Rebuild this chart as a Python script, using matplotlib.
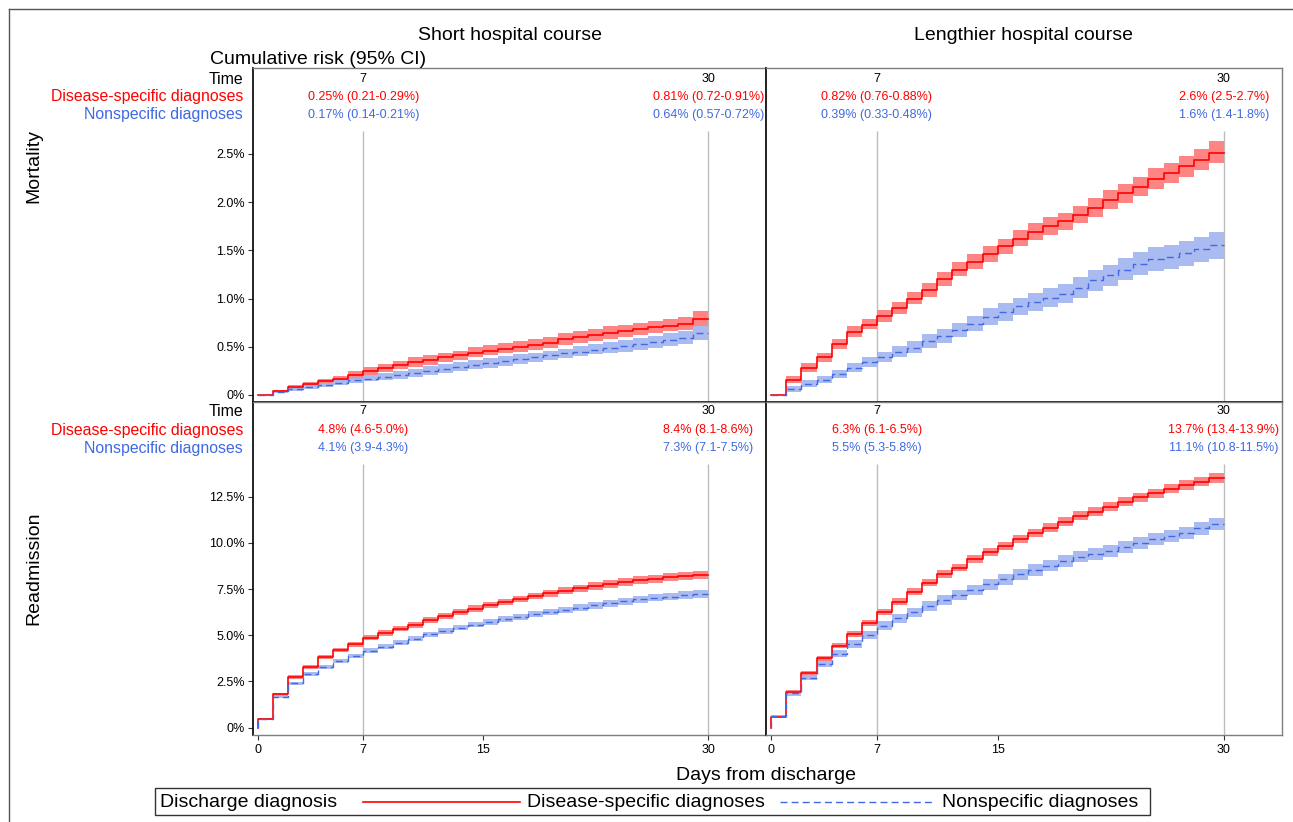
import numpy as np
import matplotlib
matplotlib.use("Agg")
import matplotlib.pyplot as plt
from matplotlib.lines import Line2D
from matplotlib.patches import Rectangle
import matplotlib.transforms as mtransforms

plt.rcParams['font.family'] = ['Liberation Sans', 'DejaVu Sans']

# ---------------- data (values in %, one value per day interval [d, d+1)) -------------
days = list(range(0, 31))  # interval edges 0..30

# Mortality, short hospital course
ms_red_est = [0, 0.04, 0.08, 0.11, 0.14, 0.17, 0.21, 0.25, 0.28, 0.31, 0.34, 0.36, 0.39, 0.41, 0.44,
              0.46, 0.48, 0.50, 0.52, 0.54, 0.58, 0.60, 0.62, 0.64, 0.66, 0.68, 0.70, 0.72, 0.74, 0.79]
ms_red_lo = [0, 0.03, 0.06, 0.09, 0.11, 0.14, 0.17, 0.21, 0.24, 0.27, 0.29, 0.31, 0.34, 0.36, 0.39,
             0.41, 0.43, 0.45, 0.47, 0.49, 0.52, 0.54, 0.56, 0.58, 0.60, 0.62, 0.64, 0.66, 0.67, 0.71]
ms_red_hi = [0, 0.05, 0.10, 0.13, 0.17, 0.20, 0.25, 0.29, 0.32, 0.35, 0.39, 0.41, 0.44, 0.46, 0.50,
             0.52, 0.54, 0.56, 0.58, 0.60, 0.64, 0.66, 0.68, 0.71, 0.73, 0.75, 0.77, 0.79, 0.81, 0.87]
ms_blue_est = [0, 0.03, 0.06, 0.08, 0.10, 0.12, 0.15, 0.17, 0.19, 0.21, 0.23, 0.25, 0.27, 0.29, 0.31,
               0.33, 0.35, 0.37, 0.39, 0.41, 0.43, 0.45, 0.47, 0.49, 0.51, 0.53, 0.55, 0.57, 0.59, 0.64]
ms_blue_lo = [0, 0.02, 0.04, 0.06, 0.08, 0.10, 0.12, 0.14, 0.16, 0.17, 0.19, 0.21, 0.23, 0.25, 0.27,
              0.28, 0.30, 0.32, 0.34, 0.36, 0.38, 0.40, 0.42, 0.43, 0.45, 0.47, 0.49, 0.51, 0.53, 0.57]
ms_blue_hi = [0, 0.04, 0.08, 0.10, 0.12, 0.15, 0.18, 0.21, 0.23, 0.25, 0.27, 0.30, 0.32, 0.34, 0.36,
              0.38, 0.40, 0.42, 0.44, 0.46, 0.48, 0.51, 0.53, 0.55, 0.57, 0.59, 0.61, 0.64, 0.66, 0.71]

# Mortality, lengthier hospital course
ml_red_est = [0, 0.16, 0.28, 0.39, 0.53, 0.65, 0.73, 0.82, 0.90, 1.00, 1.09, 1.20, 1.30, 1.38, 1.46,
              1.54, 1.62, 1.69, 1.75, 1.80, 1.87, 1.94, 2.02, 2.09, 2.16, 2.24, 2.30, 2.37, 2.44, 2.51]
ml_red_lo = [0, 0.12, 0.24, 0.34, 0.48, 0.60, 0.68, 0.76, 0.84, 0.94, 1.02, 1.13, 1.23, 1.31, 1.38,
             1.46, 1.54, 1.61, 1.66, 1.71, 1.78, 1.85, 1.93, 1.99, 2.06, 2.14, 2.20, 2.26, 2.33, 2.40]
ml_red_hi = [0, 0.20, 0.33, 0.44, 0.58, 0.71, 0.79, 0.88, 0.96, 1.07, 1.16, 1.27, 1.38, 1.46, 1.54,
             1.62, 1.71, 1.78, 1.84, 1.89, 1.96, 2.04, 2.12, 2.19, 2.26, 2.35, 2.41, 2.48, 2.55, 2.63]
ml_blue_est = [0, 0.06, 0.11, 0.16, 0.22, 0.28, 0.34, 0.39, 0.45, 0.49, 0.56, 0.61, 0.67, 0.74, 0.81,
               0.86, 0.92, 0.96, 1.01, 1.05, 1.11, 1.19, 1.24, 1.30, 1.36, 1.41, 1.43, 1.47, 1.51, 1.55]
ml_blue_lo = [0, 0.03, 0.08, 0.12, 0.18, 0.24, 0.29, 0.34, 0.39, 0.43, 0.49, 0.54, 0.60, 0.66, 0.73,
              0.77, 0.83, 0.87, 0.91, 0.95, 1.01, 1.08, 1.13, 1.19, 1.24, 1.29, 1.31, 1.34, 1.38, 1.41]
ml_blue_hi = [0, 0.09, 0.15, 0.20, 0.26, 0.33, 0.39, 0.45, 0.51, 0.56, 0.63, 0.68, 0.75, 0.82, 0.90,
              0.95, 1.01, 1.06, 1.11, 1.15, 1.22, 1.30, 1.35, 1.42, 1.48, 1.53, 1.56, 1.60, 1.64, 1.69]

# Readmission, short hospital course
rs_red_est = [0.47, 1.82, 2.73, 3.30, 3.81, 4.20, 4.51, 4.87, 5.11, 5.36, 5.56, 5.83, 6.04, 6.24, 6.44,
              6.64, 6.80, 6.96, 7.13, 7.27, 7.41, 7.54, 7.67, 7.78, 7.88, 7.99, 8.06, 8.14, 8.21, 8.28]
rs_red_lo = [0.44, 1.74, 2.63, 3.19, 3.69, 4.07, 4.37, 4.73, 4.96, 5.21, 5.40, 5.67, 5.88, 6.07, 6.27,
             6.47, 6.62, 6.78, 6.95, 7.08, 7.22, 7.35, 7.47, 7.58, 7.68, 7.78, 7.85, 7.93, 7.99, 8.06]
rs_red_hi = [0.50, 1.90, 2.83, 3.41, 3.93, 4.33, 4.65, 5.01, 5.26, 5.51, 5.72, 5.99, 6.20, 6.41, 6.61,
             6.81, 6.98, 7.14, 7.31, 7.46, 7.60, 7.73, 7.87, 7.98, 8.08, 8.20, 8.27, 8.35, 8.43, 8.50]
rs_blue_est = [0.47, 1.68, 2.40, 2.91, 3.30, 3.61, 3.88, 4.17, 4.38, 4.60, 4.82, 5.05, 5.23, 5.41, 5.57,
               5.72, 5.88, 6.01, 6.14, 6.26, 6.37, 6.49, 6.62, 6.73, 6.84, 6.95, 7.03, 7.09, 7.18, 7.24]
rs_blue_lo = [0.44, 1.60, 2.31, 2.81, 3.19, 3.49, 3.76, 4.04, 4.25, 4.46, 4.68, 4.91, 5.08, 5.26, 5.42,
              5.56, 5.72, 5.85, 5.97, 6.09, 6.20, 6.31, 6.44, 6.55, 6.66, 6.76, 6.84, 6.90, 6.98, 7.04]
rs_blue_hi = [0.50, 1.76, 2.49, 3.01, 3.41, 3.73, 4.00, 4.30, 4.51, 4.74, 4.96, 5.19, 5.38, 5.56, 5.72,
              5.88, 6.04, 6.17, 6.31, 6.43, 6.54, 6.67, 6.80, 6.91, 7.02, 7.14, 7.22, 7.28, 7.38, 7.44]

# Readmission, lengthier hospital course
rl_red_est = [0.60, 1.95, 2.94, 3.75, 4.44, 5.05, 5.68, 6.26, 6.82, 7.36, 7.85, 8.32, 8.66, 9.11, 9.49,
              9.83, 10.19, 10.52, 10.82, 11.15, 11.46, 11.69, 11.96, 12.23, 12.47, 12.68, 12.93, 13.13, 13.31, 13.50]
rl_red_lo = [0.56, 1.85, 2.82, 3.61, 4.29, 4.89, 5.51, 6.08, 6.63, 7.17, 7.65, 8.12, 8.45, 8.90, 9.27,
             9.61, 9.97, 10.29, 10.59, 10.92, 11.22, 11.45, 11.72, 11.98, 12.22, 12.43, 12.67, 12.87, 13.05, 13.23]
rl_red_hi = [0.64, 2.05, 3.06, 3.89, 4.59, 5.21, 5.85, 6.44, 7.01, 7.55, 8.05, 8.52, 8.87, 9.32, 9.71,
             10.05, 10.41, 10.75, 11.05, 11.38, 11.70, 11.93, 12.20, 12.48, 12.72, 12.93, 13.19, 13.39, 13.57, 13.77]
rl_blue_est = [0.62, 1.86, 2.71, 3.43, 3.99, 4.51, 5.02, 5.52, 5.92, 6.24, 6.60, 6.91, 7.18, 7.45, 7.76,
               8.03, 8.30, 8.53, 8.77, 9.02, 9.25, 9.40, 9.58, 9.79, 10.01, 10.19, 10.37, 10.55, 10.79, 11.01]
rl_blue_lo = [0.58, 1.74, 2.56, 3.26, 3.80, 4.30, 4.79, 5.28, 5.67, 5.98, 6.33, 6.64, 6.90, 7.17, 7.47,
              7.74, 8.00, 8.23, 8.47, 8.71, 8.94, 9.09, 9.26, 9.47, 9.69, 9.86, 10.04, 10.22, 10.45, 10.67]
rl_blue_hi = [0.66, 1.98, 2.86, 3.60, 4.18, 4.72, 5.25, 5.76, 6.17, 6.50, 6.87, 7.18, 7.46, 7.73, 8.05,
              8.32, 8.60, 8.83, 9.07, 9.33, 9.56, 9.71, 9.90, 10.11, 10.33, 10.52, 10.70, 10.88, 11.13, 11.35]

# Inset table text
table_times = ["7", "30"]
ms_red_txt = ["0.25% (0.21-0.29%)", "0.81% (0.72-0.91%)"]
ms_blue_txt = ["0.17% (0.14-0.21%)", "0.64% (0.57-0.72%)"]
ml_red_txt = ["0.82% (0.76-0.88%)", "2.6% (2.5-2.7%)"]
ml_blue_txt = ["0.39% (0.33-0.48%)", "1.6% (1.4-1.8%)"]
rs_red_txt = ["4.8% (4.6-5.0%)", "8.4% (8.1-8.6%)"]
rs_blue_txt = ["4.1% (3.9-4.3%)", "7.3% (7.1-7.5%)"]
rl_red_txt = ["6.3% (6.1-6.5%)", "13.7% (13.4-13.9%)"]
rl_blue_txt = ["5.5% (5.3-5.8%)", "11.1% (10.8-11.5%)"]

col_titles = ["Short hospital course", "Lengthier hospital course"]
row_titles = ["Mortality", "Readmission"]
series_names = ["Disease-specific diagnoses", "Nonspecific diagnoses"]
mort_ticks = [0, 0.5, 1.0, 1.5, 2.0, 2.5]
mort_ticklabels = ["0%", "0.5%", "1.0%", "1.5%", "2.0%", "2.5%"]
readm_ticks = [0, 2.5, 5.0, 7.5, 10.0, 12.5]
readm_ticklabels = ["0%", "2.5%", "5.0%", "7.5%", "10.0%", "12.5%"]
x_ticks = [0, 7, 15, 30]
ref_days = [7, 30]

# ---------------- styling -------------
RED = "#ff0000"
BLUE = "#4169e1"
RED_FILL = "#ff7f7f"
BLUE_FILL = "#a0b4f0"
W, H = 1293, 822
SMALL = 9.0

fig = plt.figure(figsize=(W / 100, H / 100), dpi=100)


def fx(px):
    return px / W


def fy(py):
    return 1 - py / H


L, M, R = 253, 766, 1282
T, MID, B = 68, 402, 734.5
ax_tl = fig.add_axes([fx(L), fy(MID), fx(M - L), (MID - T) / H])
ax_tr = fig.add_axes([fx(M), fy(MID), fx(R - M), (MID - T) / H])
ax_bl = fig.add_axes([fx(L), fy(B), fx(M - L), (B - MID) / H])
ax_br = fig.add_axes([fx(M), fy(B), fx(R - M), (B - MID) / H])

panels = [
    (ax_tl, ms_red_est, ms_red_lo, ms_red_hi, ms_blue_est, ms_blue_lo, ms_blue_hi, ms_red_txt, ms_blue_txt, "mort", True),
    (ax_tr, ml_red_est, ml_red_lo, ml_red_hi, ml_blue_est, ml_blue_lo, ml_blue_hi, ml_red_txt, ml_blue_txt, "mort", False),
    (ax_bl, rs_red_est, rs_red_lo, rs_red_hi, rs_blue_est, rs_blue_lo, rs_blue_hi, rs_red_txt, rs_blue_txt, "readm", True),
    (ax_br, rl_red_est, rl_red_lo, rl_red_hi, rl_blue_est, rl_blue_lo, rl_blue_hi, rl_red_txt, rl_blue_txt, "readm", False),
]

edges = np.array(days, dtype=float)
XLIM = (-0.35, 33.85)

for (ax, re, rlo, rhi, be, blo, bhi, rtxt, btxt, kind, is_left) in panels:
    if kind == "mort":
        ylim = (-0.073, 3.39)
        ref_top = 2.74
        ticks, tlabels = mort_ticks, mort_ticklabels
        rows_y = [79, 97, 115]
    else:
        ylim = (-0.37, 17.62)
        ref_top = 14.27
        ticks, tlabels = readm_ticks, readm_ticklabels
        rows_y = [411, 430, 448]

    ax.set_xlim(*XLIM)
    ax.set_ylim(*ylim)

    # reference lines
    ax.vlines(ref_days, ylim[0], ref_top, color="#bdbdbd", lw=1.0, zorder=1)

    # CI bands
    for lo, hi, col in [(rlo, rhi, RED_FILL), (blo, bhi, BLUE_FILL)]:
        lo_a = np.r_[lo, lo[-1]]
        hi_a = np.r_[hi, hi[-1]]
        ax.fill_between(edges, lo_a, hi_a, step="post", color=col, alpha=0.95 if col == RED_FILL else 0.9,
                        lw=0, zorder=2)
    # estimates
    xs = np.r_[0.0, edges]
    ax.step(xs, np.r_[0.0, re, re[-1]], where="post", color=RED, lw=1.2, zorder=4)
    ax.step(xs, np.r_[0.0, be, be[-1]], where="post", color=BLUE, lw=1.0, ls=(0, (5, 3)), zorder=5)

    # axes styling
    for s in ["top", "right", "bottom"]:
        ax.spines[s].set_color("#7f7f7f")
        ax.spines[s].set_linewidth(1.0)
    ax.spines["left"].set_color("#111111")
    ax.spines["left"].set_linewidth(1.3)
    if kind == "mort":
        ax.spines["bottom"].set_color("#111111")
        ax.spines["bottom"].set_linewidth(1.3)

    if is_left:
        ax.set_yticks(ticks)
        ax.set_yticklabels(tlabels)
        ax.tick_params(axis="y", length=3.6, width=0.8, pad=2.5, labelsize=SMALL, color="#333333")
    else:
        ax.set_yticks([])
    if kind == "readm":
        ax.set_xticks(x_ticks)
        ax.set_xticklabels([str(t) for t in x_ticks])
        ax.tick_params(axis="x", length=3.6, width=0.8, pad=3, labelsize=SMALL, color="#333333")
    else:
        ax.set_xticks([])

    # inset table
    tr = mtransforms.blended_transform_factory(ax.transData, fig.transFigure)
    for i, t in enumerate(table_times):
        xv = float(t)
        ax.text(xv, fy(rows_y[0]), t, transform=tr, ha="center", va="center", fontsize=SMALL, color="black")
        ax.text(xv, fy(rows_y[1]), rtxt[i], transform=tr, ha="center", va="center", fontsize=SMALL, color=RED)
        ax.text(xv, fy(rows_y[2]), btxt[i], transform=tr, ha="center", va="center", fontsize=SMALL, color=BLUE)
    if is_left:
        fig.text(fx(243), fy(rows_y[0]), "Time", ha="right", va="center", fontsize=11.4, color="black")
        fig.text(fx(243), fy(rows_y[1]), series_names[0], ha="right", va="center", fontsize=11.4, color=RED)
        fig.text(fx(243), fy(rows_y[2]), series_names[1], ha="right", va="center", fontsize=11.4, color=BLUE)

# titles
fig.text(fx((L + M) / 2), fy(35), col_titles[0], ha="center", va="center", fontsize=14)
fig.text(fx((M + R) / 2), fy(35), col_titles[1], ha="center", va="center", fontsize=14)
fig.text(fx(318), fy(59), "Cumulative risk (95% CI)", ha="center", va="center", fontsize=14)
fig.text(fx(34), fy(166), row_titles[0], ha="center", va="center", rotation=90, fontsize=14)
fig.text(fx(34), fy(568), row_titles[1], ha="center", va="center", rotation=90, fontsize=14)
fig.text(fx(766), fy(775), "Days from discharge", ha="center", va="center", fontsize=14)

# legend box (drawn manually)
fig.add_artist(Rectangle((fx(155), fy(815)), fx(1150 - 155), (815 - 788) / H, transform=fig.transFigure,
                         fill=False, edgecolor="#333333", lw=1.0))
ly = fy(802)
fig.text(fx(160), ly, "Discharge diagnosis", ha="left", va="center", fontsize=14)
fig.add_artist(Line2D([fx(363), fx(520)], [ly, ly], color=RED, lw=1.2, transform=fig.transFigure))
fig.text(fx(527), ly, series_names[0], ha="left", va="center", fontsize=14)
fig.add_artist(Line2D([fx(780), fx(935)], [ly, ly], color=BLUE, lw=1.0, ls=(0, (5, 3)), transform=fig.transFigure))
fig.text(fx(942), ly, series_names[1], ha="left", va="center", fontsize=14)

# outer frame (cropped at right and bottom)
fig.add_artist(Line2D([fx(9), fx(9)], [fy(9), 0], color="#555555", lw=1.0, transform=fig.transFigure))
fig.add_artist(Line2D([fx(9), 1], [fy(9), fy(9)], color="#555555", lw=1.0, transform=fig.transFigure))

fig.savefig("out.png", dpi=100)
